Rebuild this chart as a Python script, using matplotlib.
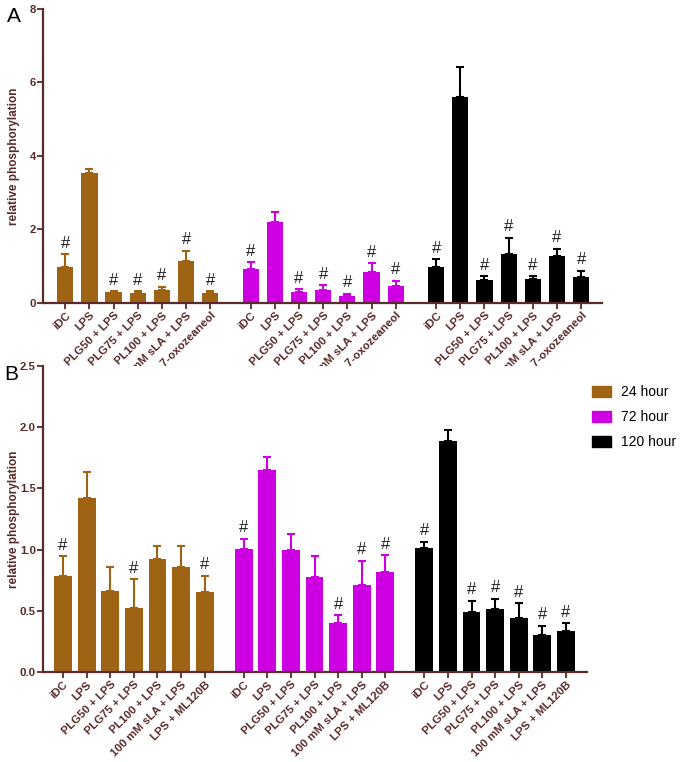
import matplotlib
matplotlib.use("Agg")
import matplotlib.pyplot as plt
import numpy as np
from matplotlib.patches import Patch

plt.rcParams['font.family'] = ['Liberation Sans', 'DejaVu Sans']

groups = ["24 hour", "72 hour", "120 hour"]
colors = ["#9E6414", "#CC00E0", "#000000"]
axis_color = "#5B2A2A"

labels_a = ["iDC", "LPS", "PLG50 + LPS", "PLG75 + LPS", "PL100 + LPS",
            "100 mM sLA + LPS", "LPS + (5Z)-7-oxozeaneol"]
labels_b = ["iDC", "LPS", "PLG50 + LPS", "PLG75 + LPS", "PL100 + LPS",
            "100 mM sLA + LPS", "LPS + ML120B"]

# Panel A: means and upper error bars
a_24 = [0.98, 3.54, 0.29, 0.28, 0.36, 1.14, 0.28]
a_24_err = [0.35, 0.11, 0.03, 0.04, 0.08, 0.28, 0.04]
a_72 = [0.93, 2.20, 0.30, 0.36, 0.20, 0.84, 0.45]
a_72_err = [0.18, 0.27, 0.08, 0.12, 0.05, 0.24, 0.15]
a_120 = [0.99, 5.60, 0.63, 1.34, 0.64, 1.28, 0.70]
a_120_err = [0.20, 0.82, 0.10, 0.44, 0.09, 0.19, 0.18]
a_sig = [[1, 0, 1, 1, 1, 1, 1], [1, 0, 1, 1, 1, 1, 1], [1, 0, 1, 1, 1, 1, 1]]

# Panel B
b_24 = [0.785, 1.425, 0.66, 0.52, 0.926, 0.856, 0.654]
b_24_err = [0.16, 0.21, 0.20, 0.237, 0.104, 0.171, 0.131]
b_72 = [1.005, 1.654, 0.997, 0.774, 0.404, 0.707, 0.817]
b_72_err = [0.082, 0.10, 0.128, 0.174, 0.061, 0.203, 0.139]
b_120 = [1.01, 1.885, 0.489, 0.514, 0.445, 0.303, 0.339]
b_120_err = [0.053, 0.093, 0.095, 0.086, 0.118, 0.074, 0.060]
b_sig = [[1, 0, 0, 1, 0, 0, 1], [1, 0, 0, 0, 1, 1, 1], [1, 0, 1, 1, 1, 1, 1]]

fig = plt.figure(figsize=(6.8, 7.62), dpi=100)


def draw_panel(ax, data, errs, sigs, labels, group_step, width, xlim, ylim,
               yticks, yticklabels, label_x):
    n = len(labels)
    all_pos, all_labels = [], []
    for g, (vals, err, sig) in enumerate(zip(data, errs, sigs)):
        pos = np.arange(n) + g * group_step
        ax.bar(pos, vals, width=width, color=colors[g], edgecolor=colors[g], linewidth=0, zorder=2)
        ax.errorbar(pos, vals, yerr=[np.zeros(n), err], fmt='none', ecolor=colors[g],
                    elinewidth=1.5, capsize=3, capthick=1.5, zorder=1)
        for p, v, e, s in zip(pos, vals, err, sig):
            if s:
                ax.annotate("#", (p, v + e), xytext=(0, 2.5), textcoords='offset points',
                            ha='center', va='bottom', fontsize=12, color='#222222')
        all_pos.extend(pos)
        all_labels.extend(labels)
    ax.set_xlim(*xlim)
    ax.set_ylim(*ylim)
    ax.set_xticks(all_pos)
    ax.set_xticklabels(all_labels, rotation=45, ha='right', rotation_mode='anchor',
                       fontsize=8.2, fontweight='bold', color=axis_color)
    ax.set_yticks(yticks)
    ax.set_yticklabels(yticklabels, fontsize=8.2, fontweight='bold', color=axis_color)
    for side in ['top', 'right']:
        ax.spines[side].set_visible(False)
    for side in ['left', 'bottom']:
        ax.spines[side].set_color(axis_color)
        ax.spines[side].set_linewidth(1.6)
    ax.tick_params(axis='both', direction='out', length=4, width=1.3, color=axis_color, pad=1.2)
    ax.set_ylabel("relative phosphorylation", fontsize=8.5, fontweight='bold',
                  color=axis_color)
    ax.yaxis.set_label_coords(label_x, 0.5)


axA = fig.add_axes([0.0632, 0.6024, 0.8221, 0.3858])
draw_panel(axA, [a_24, a_72, a_120], [a_24_err, a_72_err, a_120_err], a_sig, labels_a,
           7.67, 0.67, (-0.92, 22.2), (0, 8), [0, 2, 4, 6, 8], ["0", "2", "4", "6", "8"],
           -0.041)

axB = fig.add_axes([0.0632, 0.1181, 0.8000, 0.4016])
draw_panel(axB, [b_24, b_72, b_120], [b_24_err, b_72_err, b_120_err], b_sig, labels_b,
           7.65, 0.75, (-0.85, 22.19), (0, 2.5), [0, 0.5, 1.0, 1.5, 2.0, 2.5],
           ["0.0", "0.5", "1.0", "1.5", "2.0", "2.5"], -0.042)

fig.text(0.010, 0.979, "A", fontsize=15, ha='left', va='center')
fig.text(0.006, 0.508, "B", fontsize=15, ha='left', va='center')

handles = [Patch(facecolor=c, edgecolor=c) for c in colors]
fig.legend(handles, groups, loc='upper left', bbox_to_anchor=(0.8706, 0.4948),
           frameon=False, fontsize=10, handlelength=1.35, handleheight=0.85,
           handletextpad=0.75, labelspacing=0.8, borderpad=0, borderaxespad=0)

fig.savefig("out.png", dpi=100)
